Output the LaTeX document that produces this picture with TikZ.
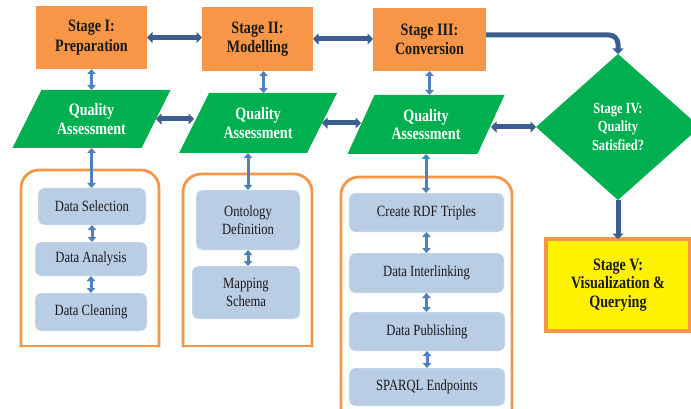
\documentclass[tikz,border=0pt]{standalone}
\usepackage{fontspec}
\setmainfont{Liberation Serif}[FakeStretch=0.81]
\usetikzlibrary{shapes.geometric,arrows.meta,backgrounds,calc}
\definecolor{stageorange}{HTML}{F79646}
\definecolor{qagreen}{HTML}{00B050}
\definecolor{darkarrow}{HTML}{3A5F8E}
\definecolor{lightarrow}{HTML}{4F81BD}
\definecolor{innerblue}{HTML}{B9CDE5}
\definecolor{stagetext}{HTML}{1A1A1A}
\begin{document}
\begin{tikzpicture}[x=1pt,y=-1pt,
  every node/.append style={outer sep=0pt, inner sep=0pt},
  stagebox/.style={rectangle, fill=stageorange, text=stagetext, align=center,
    font=\bfseries\fontsize{17.4}{19.5}\selectfont},
  qabox/.style={rectangle, text=white, align=center,
    font=\bfseries\fontsize{17.4}{18.5}\selectfont},
  innerbox/.style={rectangle, rounded corners=6pt, fill=innerblue, draw=white,
    text=stagetext, align=center, font=\fontsize{15.6}{17.5}\selectfont},
  container/.style={draw=stageorange, line width=2.8pt, line cap=rect},
  darkdbl/.style={draw=darkarrow, line width=5pt,
    {Triangle[width=11pt,length=5.5pt]}-{Triangle[width=11pt,length=5.5pt]}},
  darkarr/.style={draw=darkarrow, line width=5pt, -{Triangle[width=11pt,length=5.5pt]}},
  lightdbl/.style={draw=lightarrow, line width=3pt,
    {Triangle[width=8.5pt,length=5pt]}-{Triangle[width=8.5pt,length=5pt]}}
]
\useasboundingbox (0,0) rectangle (691,409);

% containers
\draw[container, rounded corners=18pt] (21,346) -- (21,170) -- (159,170) -- (159,346);
\draw[container] (159,346) -- (21,346);
\draw[container, rounded corners=18pt] (183,346) -- (183,174) -- (312,174) -- (312,346);
\draw[container] (312,346) -- (183,346);
\draw[container, rounded corners=18pt] (341,430) -- (341,177) -- (512,177) -- (512,430);

% stage boxes
\node[stagebox, minimum width=111pt, minimum height=63pt] (s1) at (91.5,37.5) {Stage I:\\Preparation};
\node[stagebox, minimum width=111pt, minimum height=64pt] (s2) at (257.5,39) {Stage II:\\Modelling};
\node[stagebox, minimum width=113pt, minimum height=63pt] (s3) at (429.5,39.5) {Stage III:\\Conversion};

% quality assessment
\node[qabox, minimum width=129pt, minimum height=58pt] (qa1) at (91.5,119) {Quality\\Assessment};
\node[qabox, minimum width=128pt, minimum height=60pt] (qa2) at (258,123) {Quality\\Assessment};
\node[qabox, minimum width=130pt, minimum height=59pt] (qa3) at (426,124.5) {Quality\\Assessment};
\begin{scope}[on background layer]
\foreach \n/\s in {qa1/29,qa2/30,qa3/27}
  \fill[qagreen] ($(\n.south west)+(-\s/2,0)$) -- ($(\n.south east)+(-\s/2,0)$)
    -- ($(\n.north east)+(\s/2,0)$) -- ($(\n.north west)+(\s/2,0)$) -- cycle;
\end{scope}

% decision and final stage
\node[diamond, fill=qagreen, minimum width=164pt, minimum height=146pt, text=white,
  align=center, font=\bfseries\fontsize{15.4}{18.5}\selectfont] (dia) at (618,127)
  {Stage IV:\\Quality\\Satisfied?};
\node[rectangle, fill=yellow, draw=stageorange, line width=3.5pt, minimum width=144pt,
  minimum height=92pt, text=stagetext, align=center,
  font=\bfseries\fontsize{17.4}{18.5}\selectfont] (s5) at (618,285)
  {Stage V:\\Visualization \&\\Querying};

% inner boxes
\node[innerbox, minimum width=108pt, minimum height=37pt] (ds) at (92,206.5) {Data Selection};
\node[innerbox, minimum width=112pt, minimum height=34pt] (da) at (91,259) {Data Analysis};
\node[innerbox, minimum width=112pt, minimum height=38pt] (dc) at (91,312) {Data Cleaning};
\node[innerbox, minimum width=104pt, minimum height=60pt] (od) at (248,220) {Ontology\\Definition};
\node[innerbox, minimum width=108pt, minimum height=53pt] (ms) at (246,292.5) {Mapping\\Schema};
\node[innerbox, minimum width=155pt, minimum height=39pt] (rdf) at (426.5,212.5) {Create RDF Triples};
\node[innerbox, minimum width=155pt, minimum height=40pt] (di) at (426.5,273) {Data Interlinking};
\node[innerbox, minimum width=156pt, minimum height=39pt] (dp) at (427,331.5) {Data Publishing};
\node[innerbox, minimum width=156pt, minimum height=38pt] (se) at (427,387) {SPARQL Endpoints};

% dark connectors
\draw[darkdbl] (s1.east) -- (s1.east -| s2.west);
\draw[darkdbl] (s2.east) -- (s2.east -| s3.west);
\draw[darkarr, rounded corners=9pt] ([yshift=4.5pt]s3.east) -| (dia.north);
\draw[darkdbl] (qa1.east) -- (qa1.east -| qa2.west);
\draw[darkdbl] (qa2.east) -- (qa2.east -| qa3.west);
\draw[darkdbl] (dia.west -| qa3.east) -- (dia.west);
\draw[darkarr] (dia.south) -- (s5.north);

% light connectors
\draw[lightdbl] (s1.south) -- (s1.south |- qa1.north);
\draw[lightdbl] ([xshift=6pt]s2.south) -- ([xshift=6pt]s2.south |- qa2.north);
\draw[lightdbl] (s3.south) -- (s3.south |- qa3.north);
\draw[lightdbl] (qa1.south) -- (qa1.south |- ds.north);
\draw[lightdbl] (od.north |- qa2.south) -- (od.north);
\draw[lightdbl] (qa3.south) -- (qa3.south |- rdf.north);
\draw[lightdbl] (ds.south) -- (ds.south |- da.north);
\draw[lightdbl] (da.south) -- (da.south |- dc.north);
\draw[lightdbl] (od.south) -- (od.south |- ms.north);
\draw[lightdbl] (rdf.south) -- (rdf.south |- di.north);
\draw[lightdbl] (di.south) -- (di.south |- dp.north);
\draw[lightdbl] (dp.south) -- (dp.south |- se.north);
\end{tikzpicture}
\end{document}
